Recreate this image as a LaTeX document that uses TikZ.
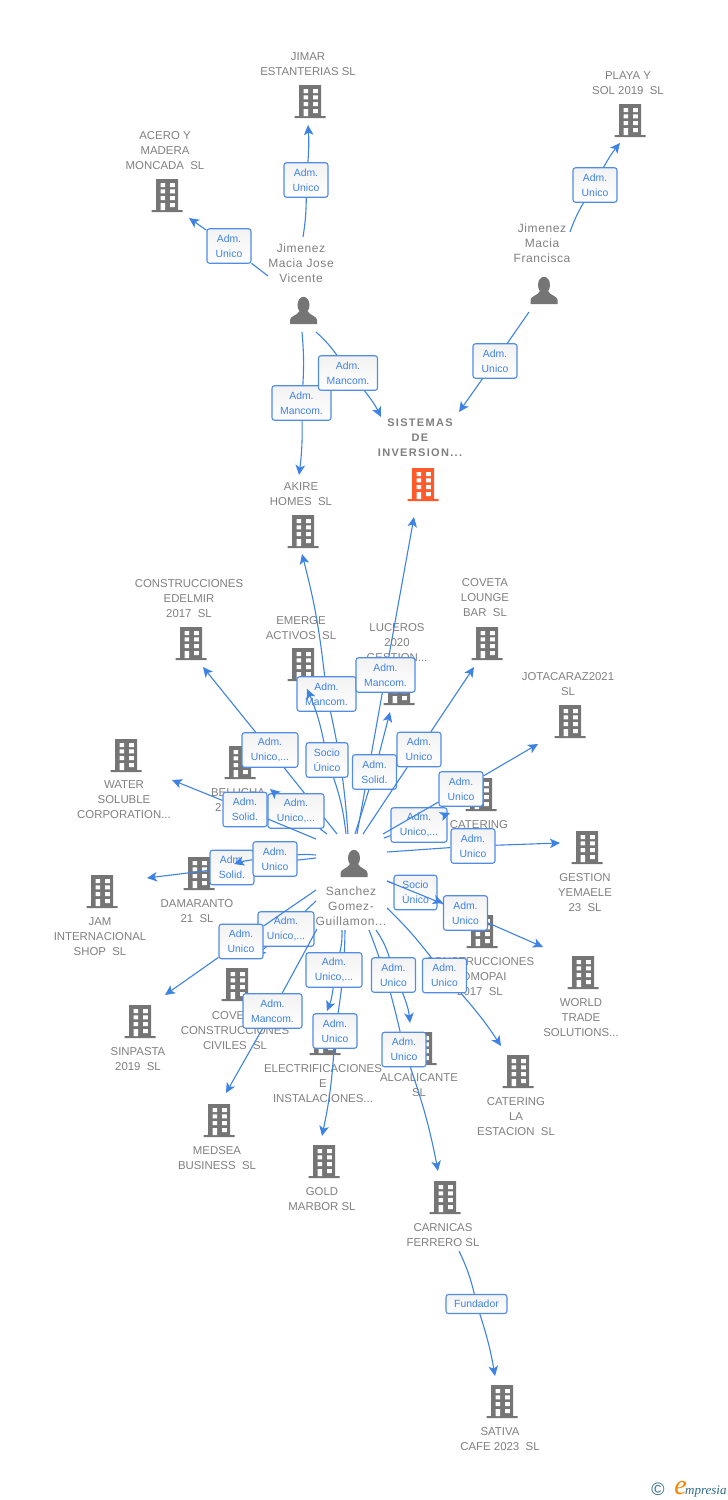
\documentclass[tikz,border=0pt]{standalone}
\usepackage{fontspec}
\usepackage{xcolor}
\usetikzlibrary{arrows.meta}
\setmainfont{Liberation Sans}
\newfontfamily\personfont[LetterSpace=5]{Liberation Sans}
\newfontfamily\headfont[LetterSpace=12]{Liberation Sans}
\newfontfamily\logofont{Liberation Serif}
\definecolor{linkblue}{RGB}{62,130,228}
\definecolor{boxblue}{RGB}{80,140,232}
\definecolor{labelgray}{RGB}{128,128,128}
\definecolor{icongray}{RGB}{117,117,117}
\definecolor{mainorange}{RGB}{255,90,43}
\definecolor{logoteal}{RGB}{45,105,135}
\tikzset{
	link/.style={draw=linkblue,line width=1.1pt},
	arrowlink/.style={link,-{Stealth[length=10pt,width=9.5pt,inset=2.5pt]}},
	edgebox/.style={draw=boxblue,line width=1.1pt,rounded corners=2.5pt,top color=black!5,bottom color=white,
		text=linkblue,align=center,inner sep=0pt,minimum height=34.5pt,font=\fontsize{10.4}{15}\selectfont},
	firmlabel/.style={text=labelgray,align=center,anchor=north,inner sep=0pt,yshift=4pt,font=\fontsize{11.4}{15}\selectfont},
	personlabel/.style={firmlabel,font=\personfont\fontsize{12}{15}\selectfont},
	building/.pic={
		\fill[#1] (-11,0) rectangle (11,32) (-15.5,31) rectangle (15.5,33);
		\fill[white] (-6.5,4) rectangle (-1.8,8) (3.2,4) rectangle (7.8,8)
			(-6.5,10.3) rectangle (-1.8,14.3) (3.2,10.3) rectangle (7.8,14.3)
			(-6.5,17) rectangle (-1.8,21) (3.2,17) rectangle (7.8,21)
			(-6.5,24) rectangle (-1.8,31) (3.2,24) rectangle (7.8,28);
	},
	person/.pic={
		\fill[icongray] (0,0) ellipse[x radius=6,y radius=8.2] ++(0,0);
		\fill[icongray] (-13.5,19) -- (-13.5,15) .. controls (-13.5,11) and (-6,10.5) .. (-4,6)
			-- (4,6) .. controls (6,10.5) and (13.5,11) .. (13.5,15) -- (13.5,19) -- cycle;
	}
}
\def\admunico{Adm.~\\Unico}
\def\admunicos{Adm.~\\Unico,...}
\def\admsolid{Adm.~\\Solid.}
\def\admmancom{Adm.~\\Mancom.}
\def\sociounico{Socio\\Único}
\begin{document}
\begin{tikzpicture}[x=1pt,y=-1pt]
	\useasboundingbox (0,0) rectangle (728,1500);
	% firms
	\foreach \firm/\bx/\by/\ly/\txt in {
		jimar/310/85/56/{JIMAR\\ESTANTERIAS SL},
		acero/167/179/135/{ACERO Y\\MADERA\\MONCADA~ SL},
		playa/630/104/75/{PLAYA Y\\SOL 2019~ SL},
		akire/303/515/486/{AKIRE\\HOMES~ SL},
		edelmir/191/627/583/{CONSTRUCCIONES\\EDELMIR\\2017~ SL},
		emerge/303/648/620/{EMERGE\\ACTIVOS~ SL},
		luceros/399/672/627/{LUCEROS\\2020\\GESTION...},
		coveta/487/627/582/{COVETA\\LOUNGE\\BAR~ SL},
		jotacaraz/570/705/676/{JOTACARAZ2021\\SL},
		water/126/739/784/{WATER\\SOLUBLE\\CORPORATION...},
		belucha/240/746/792/{BELUCHA\\2\phantom{019~ SL}},
		catering/481/778/824/{CATERING},
		yemaele/587/831/877/{GESTION\\YEMAELE\\23~ SL},
		damaranto/199/857/903/{DAMARANTO\\21~ SL},
		jam/102/875/921/{JAM\\INTERNACIONAL\\SHOP~ SL},
		romopai/482/915/961/{CONSTRUCCIONES\\ROMOPAI\\2017~ SL},
		world/583/956/1002/{WORLD\\TRADE\\SOLUTIONS...},
		sinpasta/140/1005/1051/{SINPASTA\\2019~ SL},
		cove/237/968/1015/{COVE\phantom{TA}\\CONSTRUCCIONES\\CIVILES~ SL},
		electri/325/1022/1068/{ELECTRIFICACIONES\\E\\INSTALACIONES...},
		alcalicante/421/1032/1077/{ALCALICANTE\\SL},
		estacion/518/1055/1101/{CATERING\\LA\\ESTACION~ SL},
		medsea/219/1104/1150/{MEDSEA\\BUSINESS~ SL},
		gold/324/1145/1191/{GOLD\\MARBOR SL},
		carnicas/445/1181/1227/{CARNICAS\\FERRERO SL},
		sativa/502/1385/1431/{SATIVA\\CAFE 2023~ SL}}
	{
		\pic at (\bx,\by) {building=icongray};
		\node[firmlabel] (\firm) at (\bx-2,\ly) {\txt};
	}
	\pic at (423,468) {building=mainorange};
	\node[firmlabel,font=\headfont\bfseries\fontsize{11}{15}\selectfont] (sistemas) at (420,423) {SISTEMAS\\DE\\INVERSION...};
	% persons
	\pic at (303.5,305) {person};
	\pic at (544,285) {person};
	\pic at (354,858) {person};
	\node[personlabel] (jose) at (301,248) {Jimenez\\Macia Jose\\Vicente};
	\node[personlabel] (francisca) at (542,228) {Jimenez\\Macia\\Francisca};
	\node[personlabel] (sanchez) at (351,891) {Sanchez\\Gomez-\\Guillamon...};
	% links, in drawing order: name/width/text/box/start/end/bend
	\foreach \nm/\w/\txt/\bx/\by/\sx/\sy/\ex/\ey/\bend in {
		tojimar/44/\admunico/306/180/303/237/308/125/-4,
		toacero/44/\admunico/229/246/268/276/189/218/0,
		toplaya/44/\admunico/595/185/570/232/620/143/5,
		franctosis/44/\admunico/495/361/529/312/459/412/0,
		josetoakire/59/\admmancom/301.5/403/302/332/299/475/4,
		josetosis/59/\admmancom/348/373/316/332/381/417/6,
		toakire/59/\admmancom/326.5/694/348/834/302/554/-4,
		toedelmir/56/\admunicos/270/750/337/834/203/667/0,
		tosis/59/\admmancom/385.5/675/357/834/414/517/0,
		toemerge/42/\sociounico/327/760/346/834/307/689/-6,
		toluceros/44/\admsolid/374.5/772/355/834/390/712/0,
		tocoveta/44/\admunico/419/749.5/363/834/474/667/0,
		tocatering/56/\admunicos/419/825/384/838/450/813/0,
		tojotacaraz/44/\admunico/461/789/383/834/538/744/0,
		toyemaele/44/\admunico/473/846/387/852/560/843/0,
		tobelucha/56/\admunicos/296/811/327/834/270/789/0,
		towater/44/\admsolid/245/809.5/316/839/172/780/0,
		tojam/44/\admsolid/232/867.5/316/858/147/878/0,
		todamaranto/44/\admunico/275/859/316/855/234/864/-5,
		tocove/56/\admunicos/286/929/316/901/256/956/0,
		tosinpasta/44/\admunico/241/941.5/316/890/165/995/0,
		tomedsea/59/\admmancom/272.5/1011/317/929/226/1093/0,
		togold/44/\admunico/335/1031/345/930/322/1136/4,
		toelectri/56/\admunicos/334/970/342/930/327/1011/7,
		tocarnicas/44/\admunico/404/1049.5/369/930/438/1171/4,
		toalcalicante/44/\admunico/393.5/975/376/930/410/1023/8,
		toestacion/44/\admunico/444.5/975.5/387/908/501/1046/4,
		tosocio/43/\sociounico/415.5/892.5/387/881/443/903/0,
		toworld/44/\admunico/465.5/913/387/881/543/947/0}
	{
		\coordinate (\nm-from) at (\sx,\sy);
		\coordinate (\nm-to) at (\ex,\ey);
		\node[edgebox,minimum width=\w pt] (\nm) at (\bx,\by) {\txt};
		\draw[link] (\nm-from) to[bend left=\bend] (\nm);
		\draw[arrowlink] (\nm) to[bend left=\bend] (\nm-to);
	}
	\coordinate (founder-from) at (459,1251);
	\coordinate (founder-to) at (495,1376);
	\node[edgebox,minimum width=61pt,minimum height=19pt] (founder) at (476.5,1304) {Fundador};
	\draw[link] (founder-from) to[bend left=6] (founder);
	\draw[arrowlink] (founder) to[bend left=4] (founder-to);
	% logo
	\node[text=logoteal,inner sep=0pt,font=\fontsize{18}{18}\selectfont] (copymark) at (658,1489) {\textcopyright};
	\node[text=logoteal,inner sep=0pt,anchor=base west,font=\logofont\itshape\fontsize{13}{13}\selectfont] (logotext) at (685,1494) {mpresia};
	\node[text=orange,inner sep=0pt,anchor=base east,font=\logofont\itshape\fontsize{28}{28}\selectfont] (logoe) at (687,1494) {e};
\end{tikzpicture}
\end{document}
